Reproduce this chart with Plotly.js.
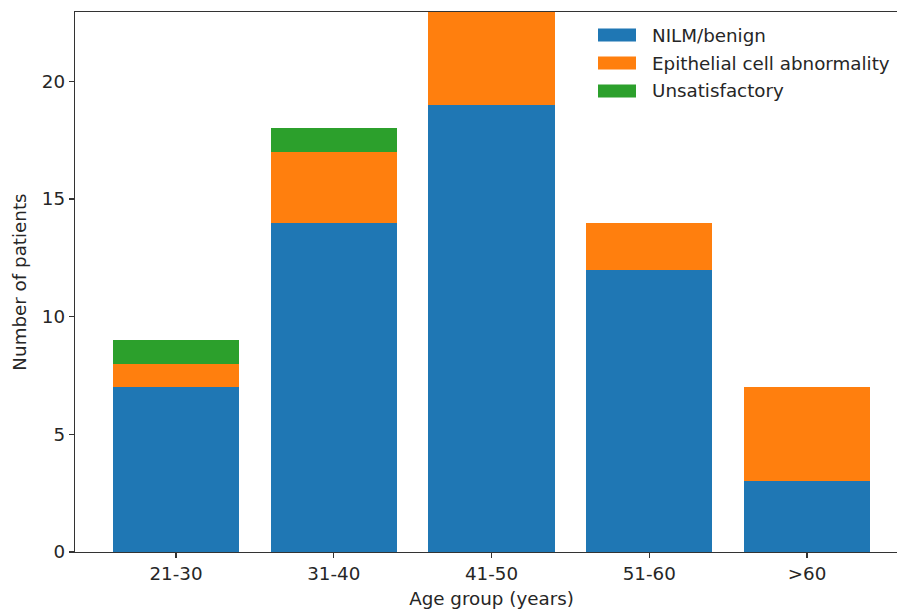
<!DOCTYPE html>
<html>
<head>
<meta charset="utf-8">
<script src="https://cdn.plot.ly/plotly-3.0.1.min.js"></script>
<style>
html,body{margin:0;padding:0;overflow:hidden;background:#fff;}
#chart{width:935px;height:613px;}
</style>
</head>
<body>
<div id="chart"></div>
<script>
const categories = ["21-30", "31-40", "41-50", "51-60", ">60"];
const nilm = [7, 14, 19, 12, 3];
const epithelial = [1, 3, 4, 2, 4];
const unsatisfactory = [1, 1, 0, 0, 0];
const seriesNames = ["NILM/benign", "Epithelial cell abnormality", "Unsatisfactory"];
const seriesColors = ["#1f77b4", "#ff7f0e", "#2ca02c"];
const seriesValues = [nilm, epithelial, unsatisfactory];

const FONT = "DejaVu Sans, sans-serif";
const TXT = "#262626";
const FS = 18.3;

const traces = seriesValues.map((vals, i) => ({
  type: "bar",
  x: categories,
  y: vals,
  name: seriesNames[i],
  marker: {color: seriesColors[i], line: {width: 0}},
  width: 0.8,
  showlegend: false,
  hoverinfo: "x+y+name"
}));

// custom matplotlib-like legend (paper coordinates)
const legendRowsPx = [35, 63, 91];
const shapes = [];
const annotations = [];
legendRowsPx.forEach((py, i) => {
  const yc = (552 - py) / 540;
  const h = 6.5 / 540;
  shapes.push({
    type: "rect", xref: "paper", yref: "paper",
    x0: (598 - 75) / 833, x1: (636 - 75) / 833,
    y0: yc - h, y1: yc + h,
    fillcolor: seriesColors[i], line: {width: 0}
  });
  annotations.push({
    xref: "paper", yref: "paper",
    x: (650 - 75) / 833, y: yc,
    xanchor: "left", yanchor: "middle",
    text: seriesNames[i], showarrow: false,
    font: {family: FONT, size: FS, color: TXT}
  });
});

const layout = {
  width: 935, height: 613,
  margin: {l: 75, r: 27, t: 12, b: 61, pad: 0},
  paper_bgcolor: "#fff", plot_bgcolor: "#fff",
  barmode: "stack",
  bargap: 0.2,
  font: {family: FONT, size: FS, color: TXT},
  xaxis: {
    type: "category",
    range: [-0.64, 4.64],
    showgrid: false, zeroline: false,
    showline: true, mirror: true, linecolor: "#333", linewidth: 1.3,
    ticks: "outside", ticklen: 5, tickwidth: 1.3, tickcolor: "#333",
    tickfont: {family: FONT, size: FS, color: TXT},
    title: {text: "Age group (years)", font: {family: FONT, size: FS, color: TXT}, standoff: 9}
  },
  yaxis: {
    range: [0, 22.95],
    tickvals: [0, 5, 10, 15, 20],
    showgrid: false, zeroline: false,
    showline: true, mirror: true, linecolor: "#333", linewidth: 1.3,
    ticks: "outside", ticklen: 5, tickwidth: 1.3, tickcolor: "#333",
    tickfont: {family: FONT, size: FS, color: TXT},
    title: {text: "Number of patients", font: {family: FONT, size: FS, color: TXT}, standoff: 10}
  },
  shapes: shapes,
  annotations: annotations
};

Plotly.newPlot("chart", traces, layout, {displayModeBar: false, staticPlot: true});
</script>
</body>
</html>
